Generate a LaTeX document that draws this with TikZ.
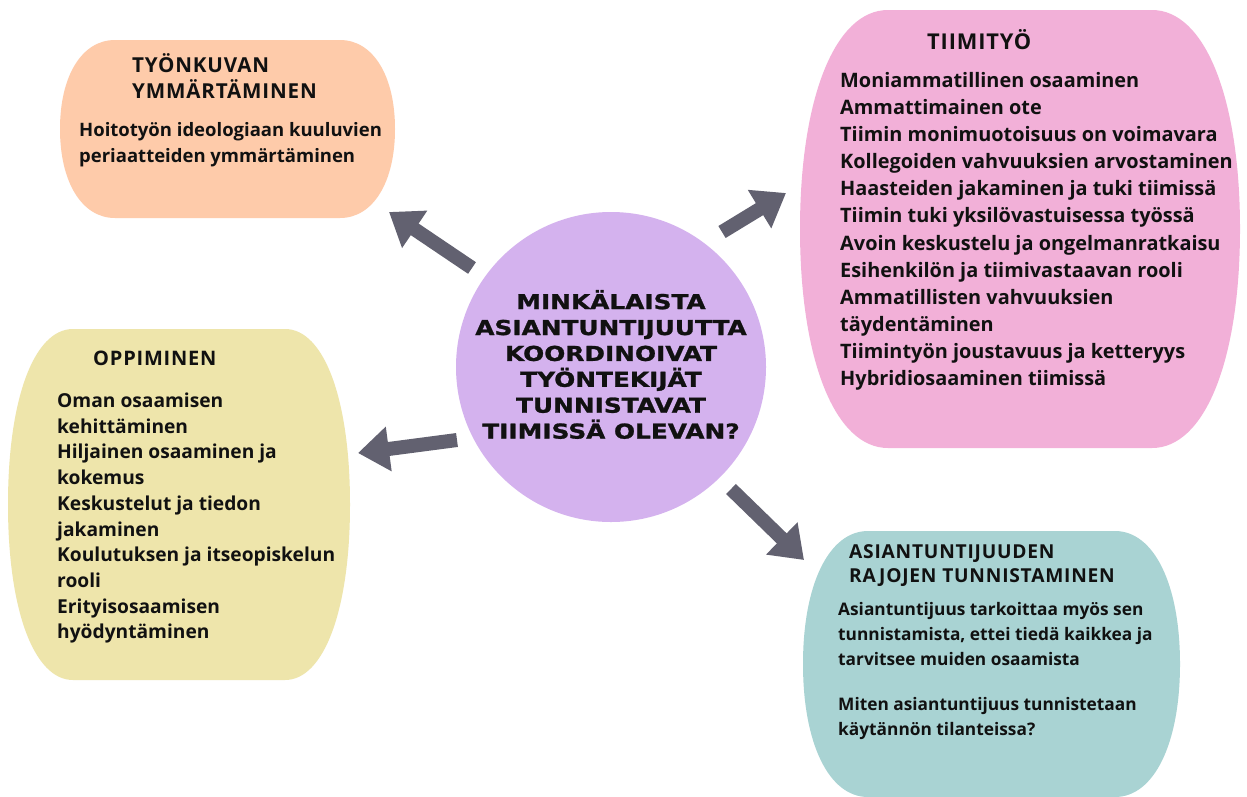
\documentclass[tikz,border=0pt]{standalone}
\usepackage{fontspec}
\usetikzlibrary{arrows.meta}
\setmainfont{Open Sans}
\newfontfamily\bodyfont{Open Sans}
\newfontfamily\headfont{Open Sans}[LetterSpace=4]
\newfontfamily\titlefont{DejaVu Sans}[FakeStretch=1.21,FakeBold=1.2]
\definecolor{peach}{HTML}{FECBAA}
\definecolor{rosa}{HTML}{F2B0D8}
\definecolor{sand}{HTML}{EEE5AB}
\definecolor{tealc}{HTML}{A9D3D3}
\definecolor{lilac}{HTML}{D4B2EE}
\definecolor{arrowc}{HTML}{626170}
\definecolor{ink}{HTML}{111111}
\newcommand\blob[7]{%
  \fill[#7] (#1+#5,#2) -- (#3-#5,#2)
    .. controls (#3-#5+0.6*#5,#2) and (#3,#2+#6-0.6*#6) .. (#3,#2+#6)
    -- (#3,#4-#6)
    .. controls (#3,#4-#6+0.6*#6) and (#3-#5+0.6*#5,#4) .. (#3-#5,#4)
    -- (#1+#5,#4)
    .. controls (#1+#5-0.6*#5,#4) and (#1,#4-#6+0.6*#6) .. (#1,#4-#6)
    -- (#1,#2+#6)
    .. controls (#1,#2+#6-0.6*#6) and (#1+#5-0.6*#5,#2) .. (#1+#5,#2) -- cycle;}
\begin{document}
\begin{tikzpicture}[x=1pt,y=-1pt,
  bodytext/.style={anchor=base west, inner sep=0pt, align=left, text=ink},
  headtext/.style={anchor=base west, inner sep=0pt, align=left, text=ink},
  bigarrow/.style={draw=arrowc, line width=14pt,
    -{Triangle[length=31pt 0, width=43pt 0]}}]
\useasboundingbox (0,0) rectangle (1247,796);
\fill[white] (0,0) rectangle (1247,796);
% blobs
\blob{60}{40}{395}{218}{55}{89}{peach}
\blob{800}{10}{1240}{448}{88}{219}{rosa}
\blob{8}{329}{350}{680}{65}{175}{sand}
\blob{803}{531}{1180}{797}{65}{133}{tealc}
% centre
\node[circle, fill=lilac, minimum size=310pt, inner sep=0pt] (centre) at (611,367) {};
\node[inner sep=0pt, align=center, text=ink,
  font=\titlefont\bfseries\fontsize{20.5}{25.9}\selectfont] (question) at (611,364.5)
  {MINKÄLAISTA\\ASIANTUNTIJUUTTA\\KOORDINOIVAT\\TYÖNTEKIJÄT\\TUNNISTAVAT\\TIIMISSÄ OLEVAN?};
% orange (anchor = baseline of last line)
\node[headtext, font=\headfont\bfseries\fontsize{20.6}{26}\selectfont] (orangeHead) at (132,98.5)
  {TYÖNKUVAN\\YMMÄRTÄMINEN};
\node[bodytext, font=\bodyfont\bfseries\fontsize{18.5}{25.5}\selectfont] (orangeBody) at (79,162)
  {Hoitotyön ideologiaan kuuluvien\\periaatteiden ymmärtäminen};
% pink
\node[headtext, font=\headfont\bfseries\fontsize{21.8}{26}\selectfont] (pinkHead) at (927,49)
  {TIIMITYÖ};
\node[bodytext, font=\bodyfont\bfseries\fontsize{19.9}{27.1}\selectfont] (pinkBody) at (840,385.5)
  {Moniammatillinen osaaminen\\Ammattimainen ote\\Tiimin monimuotoisuus on voimavara\\Kollegoiden vahvuuksien arvostaminen\\Haasteiden jakaminen ja tuki tiimissä\\Tiimin tuki yksilövastuisessa työssä\\Avoin keskustelu ja ongelmanratkaisu\\Esihenkilön ja tiimivastaavan rooli\\Ammatillisten vahvuuksien\\täydentäminen\\Tiimintyön joustavuus ja ketteryys\\Hybridiosaaminen tiimissä};
% yellow
\node[headtext, font=\headfont\bfseries\fontsize{20}{26}\selectfont] (yellowHead) at (93,365)
  {OPPIMINEN};
\node[bodytext, font=\bodyfont\bfseries\fontsize{19.2}{25.7}\selectfont] (yellowBody) at (57,638.8)
  {Oman osaamisen\\kehittäminen\\Hiljainen osaaminen ja\\kokemus\\Keskustelut ja tiedon\\jakaminen\\Koulutuksen ja itseopiskelun\\rooli\\Erityisosaamisen\\hyödyntäminen};
% teal
\node[headtext, font=\headfont\bfseries\fontsize{19.2}{24}\selectfont] (tealHead) at (849,582.5)
  {ASIANTUNTIJUUDEN\\RAJOJEN TUNNISTAMINEN};
\node[bodytext, font=\bodyfont\bfseries\fontsize{17.3}{25}\selectfont] (tealBody) at (838,735)
  {Asiantuntijuus tarkoittaa myös sen\\tunnistamista, ettei tiedä kaikkea ja\\tarvitsee muiden osaamista\\[20pt]Miten asiantuntijuus tunnistetaan\\käytännön tilanteissa?};
% arrows
\coordinate (a1s) at (472,268); \coordinate (a1e) at (389,212);
\coordinate (a2s) at (457,440); \coordinate (a2e) at (358,453);
\coordinate (a3s) at (722,232); \coordinate (a3e) at (786,193);
\coordinate (a4s) at (731,489); \coordinate (a4e) at (804,560);
\draw[bigarrow] (a1s) -- (a1e);
\draw[bigarrow] (a2s) -- (a2e);
\draw[bigarrow] (a3s) -- (a3e);
\draw[bigarrow] (a4s) -- (a4e);
\end{tikzpicture}
\end{document}
